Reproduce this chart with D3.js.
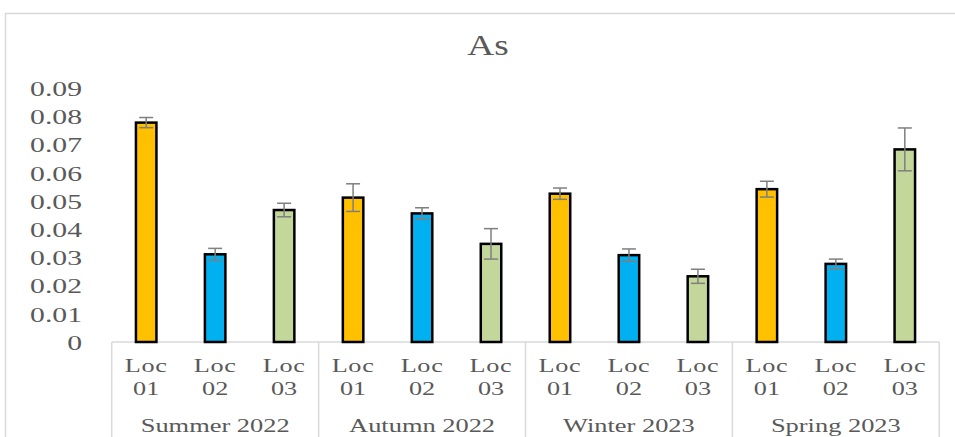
<!DOCTYPE html>
<html>
<head>
<meta charset="utf-8">
<script src="https://cdn.jsdelivr.net/npm/d3@7"></script>
<style>
  body { margin: 0; background: #fff; }
  text { font-family: "Liberation Serif", "Times New Roman", serif; fill: #595959; }
</style>
</head>
<body>
<script>
var seasons = ["Summer 2022", "Autumn 2022", "Winter 2023", "Spring 2023"];
var locs = ["Loc 01", "Loc 02", "Loc 03"];
// values per season, Loc01..Loc03
var means = [
    [0.0778, 0.0311, 0.0468],
    [0.0512, 0.0456, 0.0348],
    [0.0526, 0.0308, 0.0233],
    [0.0542, 0.0277, 0.0683]
];
var errs = [
    [0.0018, 0.0021, 0.0024],
    [0.0049, 0.0020, 0.0054],
    [0.0020, 0.0022, 0.0025],
    [0.0028, 0.0017, 0.0076]
];
var yTicks = [0, 0.01, 0.02, 0.03, 0.04, 0.05, 0.06, 0.07, 0.08, 0.09];
var colors = ["#FFC000", "#00B0F0", "#C4D79B"];

var width = 955, height = 437;
var left = 111.7, right = 939.3, base = 342;

var svg = d3.select("body").append("svg")
    .attr("width", width)
    .attr("height", height);

// chart border (cut off on right and bottom like the picture)
svg.append("rect")
    .attr("x", 5.5).attr("y", 13.5)
    .attr("width", 960).attr("height", 440)
    .attr("fill", "none")
    .attr("stroke", "#d9d9d9")
    .attr("stroke-width", 1.5);

// flatten the data
var rows = [];
seasons.forEach(function(s, i) {
    locs.forEach(function(l, j) {
        rows.push({ season: s, loc: l, key: s + "|" + l, j: j, v: means[i][j], e: errs[i][j] });
    });
});

var x = d3.scaleBand()
    .domain(rows.map(function(d) { return d.key; }))
    .range([left, right])
    .paddingInner(2 / 3)
    .paddingOuter(1 / 3);

var xs = d3.scaleBand()
    .domain(seasons)
    .range([left, right]);

var y = d3.scaleLinear()
    .domain([0, 0.09])
    .range([base, base - 0.09 * 2820]);

// title
svg.append("g")
    .attr("transform", "translate(488,55) scale(1.24,1)")
    .append("text")
    .attr("text-anchor", "middle")
    .style("font-size", "30px")
    .text("As");

// y labels (no axis line)
svg.selectAll(".ylab")
    .data(yTicks)
    .enter().append("g")
    .attr("class", "ylab")
    .attr("transform", function(d) { return "translate(82," + y(d) + ") scale(1.35,1)"; })
    .append("text")
    .attr("text-anchor", "end")
    .attr("dy", "0.35em")
    .style("font-size", "22px")
    .text(function(d) { return d === 0 ? "0" : d.toFixed(2); });

// category axis line and group separators
svg.append("line")
    .attr("x1", left).attr("x2", right)
    .attr("y1", base).attr("y2", base)
    .attr("stroke", "#d9d9d9").attr("stroke-width", 1.5);

var seps = seasons.map(function(s) { return xs(s); }).concat([right]);
svg.selectAll(".sep")
    .data(seps)
    .enter().append("line")
    .attr("class", "sep")
    .attr("x1", function(d) { return d; })
    .attr("x2", function(d) { return d; })
    .attr("y1", base).attr("y2", height)
    .attr("stroke", "#d9d9d9").attr("stroke-width", 1.5);

// bars
var sw = 2.5;
svg.selectAll(".bar")
    .data(rows)
    .enter().append("rect")
    .attr("class", "bar")
    .attr("x", function(d) { return x(d.key) + sw / 2; })
    .attr("width", x.bandwidth() - sw)
    .attr("y", function(d) { return y(d.v); })
    .attr("height", function(d) { return base - y(d.v); })
    .attr("fill", function(d) { return colors[d.j]; })
    .attr("stroke", "#000")
    .attr("stroke-width", sw);

// error bars
var eb = svg.selectAll(".err")
    .data(rows)
    .enter().append("g")
    .attr("class", "err")
    .attr("stroke", "#7f7f7f")
    .attr("stroke-width", 1.5);

eb.append("line")
    .attr("x1", function(d) { return x(d.key) + x.bandwidth() / 2; })
    .attr("x2", function(d) { return x(d.key) + x.bandwidth() / 2; })
    .attr("y1", function(d) { return y(d.v + d.e); })
    .attr("y2", function(d) { return y(d.v - d.e); });

[1, -1].forEach(function(sgn) {
    eb.append("line")
        .attr("x1", function(d) { return x(d.key) + x.bandwidth() / 2 - 7; })
        .attr("x2", function(d) { return x(d.key) + x.bandwidth() / 2 + 7; })
        .attr("y1", function(d) { return y(d.v + sgn * d.e); })
        .attr("y2", function(d) { return y(d.v + sgn * d.e); });
});

// location labels, two lines
var lab = svg.selectAll(".xlab")
    .data(rows)
    .enter().append("g")
    .attr("class", "xlab")
    .attr("transform", function(d) { return "translate(" + (x(d.key) + x.bandwidth() / 2) + ",0)"; });

lab.append("g")
    .attr("transform", "translate(0,372) scale(1.38,1)")
    .append("text")
    .attr("text-anchor", "middle")
    .style("font-size", "19px")
    .style("letter-spacing", "0.5px")
    .text(function(d) { return d.loc.split(" ")[0]; });

lab.append("g")
    .attr("transform", "translate(0,395) scale(1.38,1)")
    .append("text")
    .attr("text-anchor", "middle")
    .style("font-size", "19px")
    .text(function(d) { return d.loc.split(" ")[1]; });

// season labels
svg.selectAll(".slab")
    .data(seasons)
    .enter().append("g")
    .attr("class", "slab")
    .attr("transform", function(d) { return "translate(" + (xs(d) + xs.bandwidth() / 2) + ",431.5) scale(1.39,1)"; })
    .append("text")
    .attr("text-anchor", "middle")
    .style("font-size", "19px")
    .text(function(d) { return d; });
</script>
</body>
</html>
